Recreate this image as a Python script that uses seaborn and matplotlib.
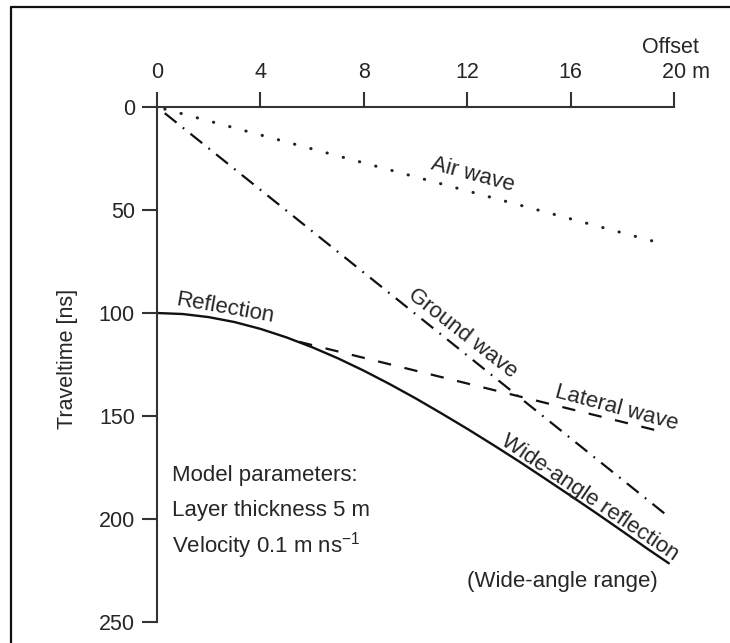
import matplotlib
matplotlib.use("Agg")
import matplotlib.pyplot as plt
from matplotlib.lines import Line2D
from matplotlib.transforms import ScaledTranslation
import seaborn as sns
import pandas as pd

# ---- data ----
air_x = [0.3, 19.3]
air_t = [1.0, 65.5]

ground_x = [0.3, 19.8]
ground_t = [3.0, 199.0]

refl_x = [0, 1, 2, 3, 4, 5, 6, 7, 8, 9, 10, 11, 12, 13, 14, 15, 16, 17, 18, 19, 19.8]
refl_t = [100, 100.5, 102, 104.4, 107.7, 111.8, 116.6, 122, 128, 134.5, 141.4,
          148.7, 156.2, 164, 172, 180.3, 188.7, 197.2, 205.9, 214.7, 221.5]

lat_x = [5.5, 19.65]
lat_t = [114, 158]

x_ticks = [0, 4, 8, 12, 16, 20]
x_ticklabels = ["0", "4", "8", "12", "16", "20 m"]
y_ticks = [0, 50, 100, 150, 200, 250]
y_ticklabels = ["0", "50", "100", "150", "200", "250"]

model_lines = ["Model parameters:", "Layer thickness 5 m", "Velocity 0.1 m ns$^{-1}$"]

# ---- style ----
sns.set_theme(style="white")
plt.rcParams["font.family"] = ["Liberation Sans", "DejaVu Sans"]
plt.rcParams["mathtext.fontset"] = "custom"
plt.rcParams["mathtext.rm"] = "Liberation Sans"
plt.rcParams["mathtext.it"] = "Liberation Sans"

TXT = "#262626"
AX = "#333333"
TICKFS = 15.5

fig = plt.figure(figsize=(7.3, 6.43), dpi=100)
ax = fig.add_axes([157 / 730, 1 - 622 / 643, 517 / 730, 515 / 643])

df_air = pd.DataFrame({"x": air_x, "t": air_t})
df_gr = pd.DataFrame({"x": ground_x, "t": ground_t})
df_re = pd.DataFrame({"x": refl_x, "t": refl_t})
df_la = pd.DataFrame({"x": lat_x, "t": lat_t})

sns.lineplot(data=df_air, x="x", y="t", ax=ax, color="#222222", lw=2.2, sort=False)
ax.lines[-1].set_linestyle((0, (0.1, 5.4)))
ax.lines[-1].set_dash_capstyle("round")

sns.lineplot(data=df_gr, x="x", y="t", ax=ax, color="#111111", lw=1.6, sort=False)
ax.lines[-1].set_linestyle((0, (6.8, 3.6, 0.8, 3.6)))

sns.lineplot(data=df_re, x="x", y="t", ax=ax, color="#111111", lw=1.7, sort=False)

sns.lineplot(data=df_la, x="x", y="t", ax=ax, color="#111111", lw=1.6, sort=False)
ax.lines[-1].set_linestyle((0, (6.0, 6.2)))

# ---- axes ----
ax.set_xlim(0, 20)
ax.set_ylim(250, 0)
ax.set_xlabel("")
ax.set_ylabel("Traveltime [ns]", fontsize=15.5, color=TXT)
ax.yaxis.set_label_coords(-0.152, 0.51)
ax.xaxis.tick_top()
ax.set_xticks(x_ticks)
ax.set_xticklabels(x_ticklabels)
ax.set_yticks(y_ticks)
ax.set_yticklabels(y_ticklabels)
for s in ["right", "bottom"]:
    ax.spines[s].set_visible(False)
for s in ["top", "left"]:
    ax.spines[s].set_visible(True)
    ax.spines[s].set_color(AX)
    ax.spines[s].set_linewidth(1.5)
ax.tick_params(axis="x", which="both", top=True, bottom=False, direction="out",
               length=11, width=1.5, color=AX, pad=6, labelsize=TICKFS, labelcolor=TXT)
ax.tick_params(axis="y", which="both", left=True, direction="out",
               length=11, width=1.5, color=AX, pad=5, labelsize=TICKFS, labelcolor=TXT)
ax.grid(False)
ax.patch.set_alpha(0)

# shift the "20 m" label so that "20" is centred on its tick
last = ax.get_xticklabels()[-1]
last.set_transform(last.get_transform() +
                   ScaledTranslation(0.556 * TICKFS / 72, 0, fig.dpi_scale_trans))

ax.text(19.88, -29.1, "Offset", fontsize=TICKFS, color=TXT, ha="center", va="center", clip_on=False)

# curve labels
kw = dict(fontsize=16, color=TXT, ha="center", va="center", rotation_mode="anchor")
ax.text(12.22, 33.0, "Air wave", rotation=-15, **kw)
ax.text(11.8, 109.7, "Ground wave", rotation=-38, **kw)
ax.text(2.63, 97.6, "Reflection", rotation=-10, **kw)
ax.text(17.76, 146.1, "Lateral wave", rotation=-15, **kw)
ax.text(16.75, 189.5, "Wide-angle reflection", rotation=-34, **kw)
ax.text(15.7, 230.1, "(Wide-angle range)", rotation=0, **kw)

for i, line in enumerate(model_lines):
    ax.text(0.58, 179.1 + 17 * i, line, fontsize=16, color=TXT, ha="left", va="center")

# frame lines around figure (top and left only visible)
fig.add_artist(Line2D([11 / 730, 1.0], [1 - 7 / 643, 1 - 7 / 643], transform=fig.transFigure,
                      color="#111111", lw=1.6))
fig.add_artist(Line2D([11 / 730, 11 / 730], [0.0, 1 - 7 / 643], transform=fig.transFigure,
                      color="#111111", lw=1.6))

fig.savefig("out.png", dpi=100)
